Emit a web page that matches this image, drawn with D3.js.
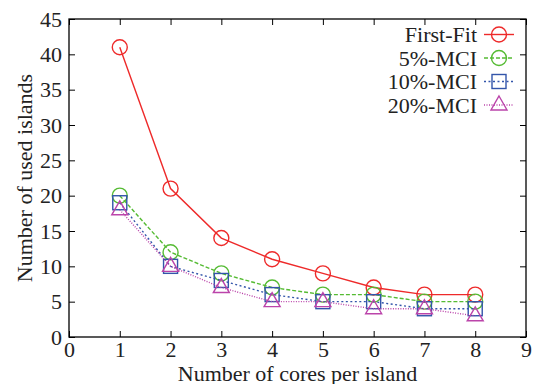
<!DOCTYPE html>
<html>
<head>
<meta charset="utf-8">
<script src="https://cdn.jsdelivr.net/npm/d3@7"></script>
<style>
  body { margin: 0; background: #fff; }
</style>
</head>
<body>
<div id="chart"></div>
<script>
// data
var cores = [1, 2, 3, 4, 5, 6, 7, 8];
var firstFit = [41, 21, 14, 11, 9, 7, 6, 6];
var mci5 = [20, 12, 9, 7, 6, 6, 5, 5];
var mci10 = [19, 10, 8, 6, 5, 5, 4, 4];
var mci20 = [18, 10, 7, 5, 5, 4, 4, 3];
var xTicks = [0, 1, 2, 3, 4, 5, 6, 7, 8, 9];
var yTicks = [0, 5, 10, 15, 20, 25, 30, 35, 40, 45];

var series = [
  {name: "First-Fit", values: firstFit, color: "#ee2a2a", dash: null, marker: "circle"},
  {name: "5%-MCI", values: mci5, color: "#55bb33", dash: "4,2", marker: "circle"},
  {name: "10%-MCI", values: mci10, color: "#3355aa", dash: "2,2.5", marker: "square"},
  {name: "20%-MCI", values: mci20, color: "#bb44aa", dash: "1,1.5", marker: "triangle"}
];

var serif = "Liberation Serif";

var margin = {top: 19, right: 17, bottom: 47, left: 69},
    width = 543 - margin.left - margin.right,
    height = 384 - margin.top - margin.bottom;

var svg = d3.select("#chart")
  .append("svg")
    .attr("width", 543)
    .attr("height", 384)
    .attr("font-family", serif)
  .append("g")
    .attr("transform", "translate(" + margin.left + "," + margin.top + ")");

var x = d3.scaleLinear().domain([0, 9]).range([0, width]);
var y = d3.scaleLinear().domain([0, 45]).range([height, 0]);

// axes with inward ticks, mirrored on top/right
svg.append("g")
  .attr("transform", "translate(0," + height + ")")
  .call(d3.axisBottom(x).tickValues(xTicks).tickSize(-6).tickPadding(4.5));
svg.append("g")
  .call(d3.axisLeft(y).tickValues(yTicks).tickSize(-6).tickPadding(7));
svg.append("g")
  .call(d3.axisTop(x).tickValues(xTicks).tickSize(-6).tickFormat(""));
svg.append("g")
  .attr("transform", "translate(" + width + ",0)")
  .call(d3.axisRight(y).tickValues(yTicks).tickSize(-6).tickFormat(""));

svg.selectAll(".domain").remove();
svg.selectAll("g").attr("font-family", serif);
svg.selectAll(".tick line").attr("stroke", "#000").attr("stroke-width", 1);
svg.selectAll(".tick text")
  .attr("font-family", serif)
  .attr("font-size", 22)
  .attr("fill", "#222");

svg.append("rect")
  .attr("width", width).attr("height", height)
  .attr("fill", "none").attr("stroke", "#000").attr("stroke-width", 1.3);

function drawMarker(g, type, cx, cy, color) {
  if (type === "circle") {
    g.append("circle").attr("cx", cx).attr("cy", cy).attr("r", 7.5)
      .attr("fill", "none").attr("stroke", color).attr("stroke-width", 1.4);
  } else if (type === "square") {
    g.append("rect").attr("x", cx - 7).attr("y", cy - 7).attr("width", 14).attr("height", 14)
      .attr("fill", "none").attr("stroke", color).attr("stroke-width", 1.4);
  } else {
    g.append("path")
      .attr("d", "M" + cx + "," + (cy - 9) + "L" + (cx + 8) + "," + (cy + 5) + "L" + (cx - 8) + "," + (cy + 5) + "Z")
      .attr("fill", "none").attr("stroke", color).attr("stroke-width", 1.4);
  }
}

var line = d3.line()
  .x((d, i) => x(cores[i]))
  .y(d => y(d));

series.forEach(function(s) {
  var g = svg.append("g");
  g.append("path")
    .attr("d", line(s.values))
    .attr("fill", "none")
    .attr("stroke", s.color)
    .attr("stroke-width", 1.4)
    .attr("stroke-dasharray", s.dash);
  s.values.forEach(function(v, i) {
    drawMarker(g, s.marker, x(cores[i]), y(v), s.color);
  });
});

// legend
var legend = svg.append("g").attr("transform", "translate(" + (width - 42) + ",15.5)");
series.forEach(function(s, i) {
  var ly = i * 23.5;
  legend.append("text")
    .attr("x", -7).attr("y", ly).attr("dy", "0.35em")
    .attr("text-anchor", "end")
    .attr("font-family", serif)
    .attr("font-size", 22)
    .attr("fill", "#222")
    .text(s.name);
  legend.append("line")
    .attr("x1", 0).attr("x2", 30).attr("y1", ly).attr("y2", ly)
    .attr("stroke", s.color).attr("stroke-width", 1.4)
    .attr("stroke-dasharray", s.dash);
  drawMarker(legend, s.marker, 15, ly, s.color);
});

// axis labels
svg.append("text")
  .attr("transform", "rotate(-90)")
  .attr("x", -height / 2)
  .attr("y", -37)
  .attr("text-anchor", "middle")
  .attr("font-family", serif)
  .attr("font-size", 22)
  .attr("fill", "#222")
  .text("Number of used islands");

svg.append("text")
  .attr("x", width / 2)
  .attr("y", height + 44)
  .attr("text-anchor", "middle")
  .attr("font-family", serif)
  .attr("font-size", 22)
  .attr("fill", "#222")
  .text("Number of cores per island");
</script>
</body>
</html>
